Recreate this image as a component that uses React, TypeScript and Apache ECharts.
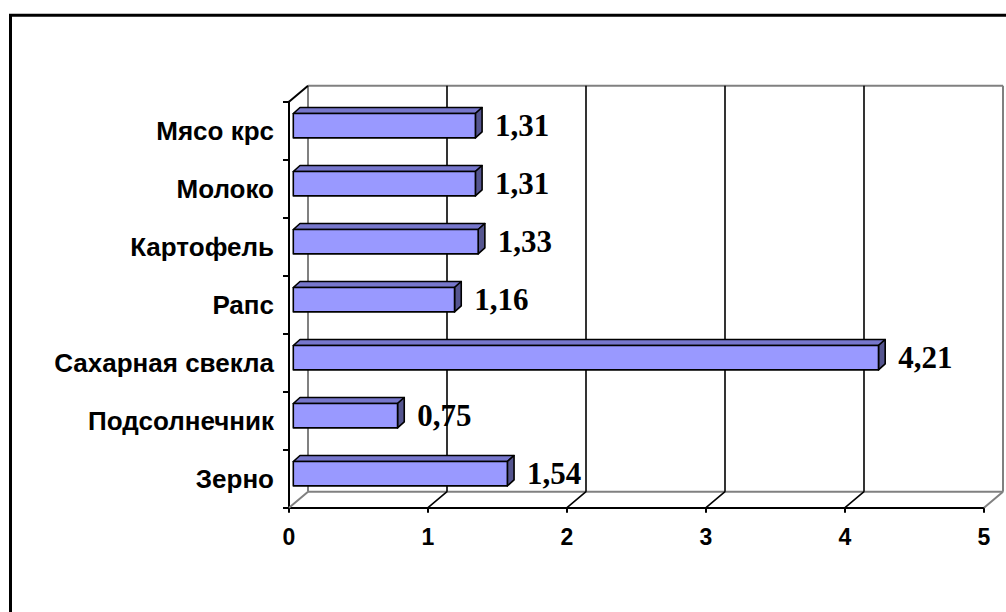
import React, { useEffect, useRef } from "react";
import * as echarts from "echarts";

const categories = ["Зерно", "Подсолнечник", "Сахарная свекла", "Рапс", "Картофель", "Молоко", "Мясо крс"];
const values = [1.54, 0.75, 4.21, 1.16, 1.33, 1.31, 1.31];
const xTicks = [0, 1, 2, 3, 4, 5];

const WALL_D = [19, -16];
const BAR_D = [6.7, -6];
const BAR_OFF = [4.3, -5];

function fmt(v: number) {
  return v.toFixed(2).replace(".", ",");
}

export default function App() {
  const ref = useRef<HTMLDivElement>(null);
  useEffect(() => {
    if (!ref.current) return;
    const chart = echarts.init(ref.current, undefined, { renderer: "svg" });
    const option: any = {
      animation: false,
      backgroundColor: "#fff",
      grid: { left: 289, right: 22, top: 101.7, bottom: 104.3, containLabel: false },
      xAxis: {
        type: "value",
        min: 0,
        max: 5,
        interval: 1,
        axisLine: { show: true, lineStyle: { color: "#000", width: 2 } },
        axisTick: { show: true, length: 5, lineStyle: { color: "#000", width: 2 } },
        axisLabel: {
          color: "#000",
          fontFamily: "Liberation Sans",
          fontWeight: "bold",
          fontSize: 23,
          margin: 18,
        },
        splitLine: { show: false },
      },
      yAxis: {
        type: "category",
        data: categories,
        axisLine: { show: true, lineStyle: { color: "#000", width: 2 } },
        axisTick: { show: true, length: 6, lineStyle: { color: "#000", width: 2 } },
        axisLabel: {
          color: "#000",
          fontFamily: "Liberation Sans",
          fontWeight: "bold",
          fontSize: 26,
          margin: 15,
        },
      },
      graphic: [
        {
          type: "rect",
          shape: { x: 10.5, y: 15.3, width: 1200, height: 800 },
          style: { fill: "none", stroke: "#000", lineWidth: 3 },
          z: 100,
        },
      ],
      series: [
        {
          type: "custom",
          z: 1,
          silent: true,
          data: [0],
          renderItem: (params: any, api: any) => {
            const cs = params.coordSys;
            const yTop = cs.y;
            const yBot = cs.y + cs.height;
            const [dx, dy] = WALL_D;
            const gray = "#808080";
            const children: any[] = [];
            const x0 = api.coord([xTicks[0], 0])[0];
            const xN = api.coord([xTicks[xTicks.length - 1], 0])[0];
            children.push({
              type: "line",
              shape: { x1: x0 + dx, y1: yTop + dy, x2: xN + dx, y2: yTop + dy },
              style: { stroke: gray, lineWidth: 2 },
            });
            children.push({
              type: "line",
              shape: { x1: x0 + dx, y1: yBot + dy, x2: xN + dx, y2: yBot + dy },
              style: { stroke: gray, lineWidth: 2 },
            });
            xTicks.forEach((t, i) => {
              const x = api.coord([t, 0])[0];
              const edge = i === 0 || i === xTicks.length - 1;
              const c = edge ? gray : "#000";
              children.push({
                type: "line",
                shape: { x1: x + dx, y1: yTop + dy, x2: x + dx, y2: yBot + dy },
                style: { stroke: c, lineWidth: edge ? 2 : 1.6 },
              });
              children.push({
                type: "line",
                shape: { x1: x, y1: yBot, x2: x + dx, y2: yBot + dy },
                style: { stroke: c, lineWidth: edge ? 2 : 1.6 },
              });
            });
            children.push({
              type: "line",
              shape: { x1: x0, y1: yTop, x2: x0 + dx, y2: yTop + dy },
              style: { stroke: "#000", lineWidth: 2 },
            });
            return { type: "group", children };
          },
        },
        {
          type: "custom",
          z: 5,
          data: values.map((v, i) => [v, i]),
          encode: { x: 0, y: 1 },
          renderItem: (params: any, api: any) => {
            const val = api.value(0);
            const idx = api.value(1);
            const p0 = api.coord([0, idx]);
            const p1 = api.coord([val, idx]);
            const band = api.size([0, 1])[1];
            const h = band * 0.42;
            const xa = p0[0] + BAR_OFF[0];
            const xb = p1[0] + BAR_OFF[0];
            const yc = p0[1] + BAR_OFF[1];
            const ya = yc - h / 2;
            const yb = yc + h / 2;
            const [bx, by] = BAR_D;
            const stroke = { stroke: "#000", lineWidth: 1.6, lineJoin: "round" };
            return {
              type: "group",
              children: [
                {
                  type: "polygon",
                  shape: { points: [[xa, ya], [xa + bx, ya + by], [xb + bx, ya + by], [xb, ya]] },
                  style: { fill: "#7777CC", ...stroke },
                },
                {
                  type: "polygon",
                  shape: { points: [[xb, ya], [xb + bx, ya + by], [xb + bx, yb + by], [xb, yb]] },
                  style: { fill: "#55558F", ...stroke },
                },
                {
                  type: "rect",
                  shape: { x: xa, y: ya, width: xb - xa, height: h },
                  style: { fill: "#9999FF", ...stroke },
                },
                {
                  type: "text",
                  x: xb + bx + 13,
                  y: yc,
                  style: {
                    text: fmt(val),
                    font: 'bold 31px "Liberation Serif"',
                    fill: "#000",
                    align: "left",
                    verticalAlign: "middle",
                  },
                },
              ],
            };
          },
        },
      ],
    };
    chart.setOption(option);
    return () => chart.dispose();
  }, []);
  return (
    <div
      ref={ref}
      style={{ position: "fixed", left: 0, top: 0, width: 1006, height: 612, background: "#fff" }}
    />
  );
}
